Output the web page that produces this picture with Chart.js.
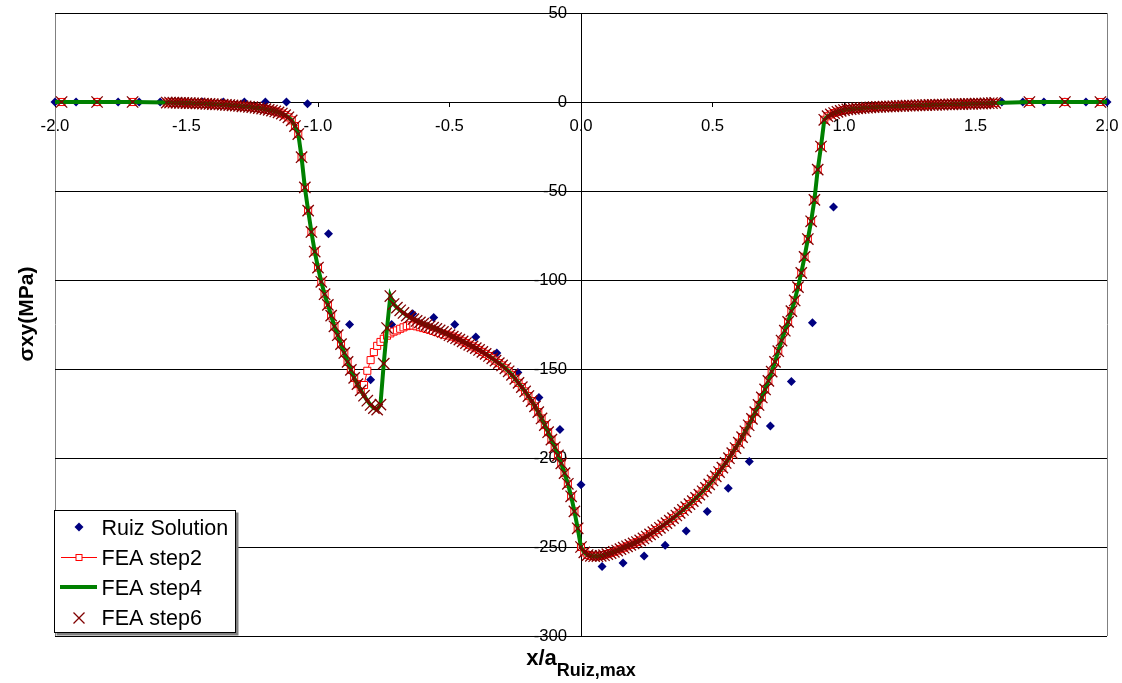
<!DOCTYPE html>
<html>
<head>
<meta charset="utf-8">
<title>σxy vs x/a</title>
<script src="https://cdn.jsdelivr.net/npm/chart.js@4.4.1/dist/chart.umd.min.js"></script>
<style>
  html, body { margin: 0; padding: 0; background: #fff; }
  #wrap { width: 1122px; height: 683px; position: relative; }
</style>
</head>
<body>
<div id="wrap"><canvas id="stressChart" width="1122" height="683"></canvas></div>
<script>
// Ruiz (analytic) solution
const ruizX = [-2.0, -1.92, -1.84, -1.76, -1.68, -1.6, -1.52, -1.44, -1.36, -1.28, -1.2, -1.12, -1.04,
    -0.96, -0.88, -0.8, -0.72, -0.64, -0.56, -0.48, -0.4, -0.32, -0.24, -0.16, -0.08, 0,
    0.08, 0.16, 0.24, 0.32, 0.4, 0.48, 0.56, 0.64, 0.72, 0.8, 0.88, 0.96,
    1.6, 1.68, 1.76, 1.84, 1.92, 2.0];
const ruizY = [0, 0, 0, 0, 0, 0, 0, 0, 0, 0, 0, 0, -1,
    -74, -125, -156, -125, -119, -121, -125, -132, -141, -152, -166, -184, -215,
    -261, -259, -255, -249, -241, -230, -217, -202, -182, -157, -124, -59,
    0, 0, 0, 0, 0, 0];

// FEA nodes (x/a)
const feaX = [-1.975, -1.84, -1.705,
    -1.575, -1.5625, -1.55, -1.5375, -1.525, -1.5125, -1.5, -1.4875,
    -1.475, -1.4625, -1.45, -1.4375, -1.425, -1.4125, -1.4, -1.3875,
    -1.375, -1.3625, -1.35, -1.3375, -1.325, -1.3125, -1.3, -1.2875,
    -1.275, -1.2625, -1.25, -1.2375, -1.225, -1.2125, -1.2, -1.1875,
    -1.175, -1.1625, -1.15, -1.1375, -1.125, -1.1125, -1.1, -1.0875,
    -1.075, -1.0625, -1.05, -1.0375, -1.025, -1.0125, -1, -0.9875,
    -0.975, -0.9625, -0.95, -0.9375, -0.925, -0.9125, -0.9, -0.8875,
    -0.875, -0.8625, -0.85, -0.8375, -0.825, -0.8125, -0.8, -0.7875,
    -0.775, -0.7625, -0.75, -0.7375, -0.725, -0.7125, -0.7, -0.6875,
    -0.675, -0.6625, -0.65, -0.6375, -0.625, -0.6125, -0.6, -0.5875,
    -0.575, -0.5625, -0.55, -0.5375, -0.525, -0.5125, -0.5, -0.4875,
    -0.475, -0.4625, -0.45, -0.4375, -0.425, -0.4125, -0.4, -0.3875,
    -0.375, -0.3625, -0.35, -0.3375, -0.325, -0.3125, -0.3, -0.2875,
    -0.275, -0.2625, -0.25, -0.2375, -0.225, -0.2125, -0.2, -0.1875,
    -0.175, -0.1625, -0.15, -0.1375, -0.125, -0.1125, -0.1, -0.0875,
    -0.075, -0.0625, -0.05, -0.0375, -0.025, -0.0125, 0, 0.0125,
    0.025, 0.0375, 0.05, 0.0625, 0.075, 0.0875, 0.1, 0.1125,
    0.125, 0.1375, 0.15, 0.1625, 0.175, 0.1875, 0.2, 0.2125,
    0.225, 0.2375, 0.25, 0.2625, 0.275, 0.2875, 0.3, 0.3125,
    0.325, 0.3375, 0.35, 0.3625, 0.375, 0.3875, 0.4, 0.4125,
    0.425, 0.4375, 0.45, 0.4625, 0.475, 0.4875, 0.5, 0.5125,
    0.525, 0.5375, 0.55, 0.5625, 0.575, 0.5875, 0.6, 0.6125,
    0.625, 0.6375, 0.65, 0.6625, 0.675, 0.6875, 0.7, 0.7125,
    0.725, 0.7375, 0.75, 0.7625, 0.775, 0.7875, 0.8, 0.8125,
    0.825, 0.8375, 0.85, 0.8625, 0.875, 0.8875, 0.9, 0.9125,
    0.925, 0.9375, 0.95, 0.9625, 0.975, 0.9875, 1, 1.0125,
    1.025, 1.0375, 1.05, 1.0625, 1.075, 1.0875, 1.1, 1.1125,
    1.125, 1.1375, 1.15, 1.1625, 1.175, 1.1875, 1.2, 1.2125,
    1.225, 1.2375, 1.25, 1.2625, 1.275, 1.2875, 1.3, 1.3125,
    1.325, 1.3375, 1.35, 1.3625, 1.375, 1.3875, 1.4, 1.4125,
    1.425, 1.4375, 1.45, 1.4625, 1.475, 1.4875, 1.5, 1.5125,
    1.525, 1.5375, 1.55, 1.5625, 1.575,
    1.705, 1.84, 1.975];

// FEA step6 sigma_xy (MPa), same nodes as feaX
const feaStep6 = [0, 0, 0,
    -0.3, -0.3, -0.4, -0.4, -0.5, -0.5, -0.6, -0.6,
    -0.7, -0.8, -0.8, -0.9, -1.0, -1.1, -1.2, -1.3,
    -1.4, -1.5, -1.6, -1.7, -1.9, -2.0, -2.2, -2.4,
    -2.5, -2.7, -2.9, -3.2, -3.4, -3.7, -4.0, -4.4,
    -4.8, -5.3, -5.8, -6.5, -7.4, -8.6, -10.3, -13.5,
    -18, -31, -48, -61, -73, -84, -93, -101,
    -108, -114, -120, -126, -131, -136, -141, -146,
    -150.5, -155, -158.5, -162, -165, -167.8, -170.2, -172,
    -172.8, -170, -147, -127, -109, -113.5, -115.5, -117,
    -118.5, -120, -121, -122, -123, -123.8, -124.5, -125.3,
    -126, -126.8, -127.5, -128.3, -129.2, -130, -131, -131.8,
    -132.7, -133.5, -134.5, -135.4, -136.4, -137.3, -138.3, -139.3,
    -140.4, -141.5, -142.7, -144, -145.3, -146.7, -148, -149.6,
    -151.3, -153.3, -155.5, -157.8, -160.2, -162.6, -165.2, -168,
    -171, -174.2, -177.8, -181.5, -185.5, -189.7, -194, -198.5,
    -203, -208.5, -214.5, -221.5, -230, -239.5, -250, -253,
    -254.5, -255, -255.2, -255.2, -255, -254.6, -254, -253.4,
    -252.7, -252, -251.2, -250.4, -249.6, -248.8, -248, -247.2,
    -246.3, -245.2, -244.1, -242.9, -241.7, -240.5, -239.2, -237.9,
    -236.6, -235.2, -233.8, -232.3, -230.8, -229.2, -227.6, -225.9,
    -224.2, -222.4, -220.6, -218.7, -216.8, -214.8, -212.6, -210.3,
    -207.9, -205.4, -202.8, -200.1, -197.3, -194.4, -191.4, -188.3,
    -185, -181.6, -178, -174.2, -170.2, -166, -161.5, -156.7,
    -151.5, -146, -140, -134, -128.5, -123.5, -117.5, -111.5,
    -104, -96, -87, -77, -67, -55, -38, -25,
    -10, -8, -7, -6.2, -5.5, -5, -4.5, -4.2,
    -4, -3.8, -3.6, -3.5, -3.3, -3.2, -3.0, -2.9,
    -2.8, -2.7, -2.6, -2.55, -2.5, -2.4, -2.3, -2.25,
    -2.2, -2.1, -2.05, -2.0, -1.9, -1.85, -1.8, -1.7,
    -1.65, -1.6, -1.55, -1.5, -1.45, -1.4, -1.35, -1.3,
    -1.25, -1.2, -1.15, -1.1, -1.05, -1.0, -0.95, -0.9,
    -0.85, -0.8, -0.7, -0.6, -0.5,
    0, 0, 0];

// FEA step2 differs from step6 only around the stick/slip dip
const step2DipX = [-0.8375, -0.825, -0.8125, -0.8, -0.7875, -0.775, -0.7625, -0.75, -0.7375, -0.725,
    -0.7125, -0.7, -0.6875, -0.675, -0.6625, -0.65, -0.6375, -0.625, -0.6125, -0.6,
    -0.5875, -0.575, -0.5625, -0.55, -0.5375, -0.525, -0.5125, -0.5];
const step2DipY = [-161.5, -159, -151, -145, -140.5, -137, -134.8, -133, -131.3, -130,
    -129, -128.3, -127.4, -126.6, -125.9, -125.5, -125.6, -126, -126.5, -127,
    -127.5, -128, -128.6, -129.2, -129.8, -130.4, -130.8, -131.2];

// step4 line runs to the plot edges
const step4EndX = [-2.0, 2.0];

const seriesNames = ['Ruiz Solution', 'FEA step2', 'FEA step4', 'FEA step6'];

// build point lists
const ruizPts = ruizX.map((x, i) => ({ x: x, y: ruizY[i] }));
const step6Pts = feaX.map((x, i) => ({ x: x, y: feaStep6[i] }));
const dip = new Map(step2DipX.map((x, i) => [x, step2DipY[i]]));
const step2Pts = feaX.map((x, i) => ({ x: x, y: dip.has(x) ? dip.get(x) : feaStep6[i] }));
const step4Pts = [{ x: step4EndX[0], y: 0 }].concat(step6Pts, [{ x: step4EndX[1], y: 0 }]);

const FONT = "'Liberation Sans', Arial, sans-serif";

// legend box + axis titles drawn on the canvas
const decorPlugin = {
    id: 'decor',
    afterDraw(chart) {
        const ctx = chart.ctx;
        ctx.save();

        // y title
        ctx.fillStyle = '#000';
        ctx.font = 'bold 21px ' + FONT;
        ctx.textAlign = 'center';
        ctx.textBaseline = 'middle';
        ctx.translate(27, 314);
        ctx.rotate(-Math.PI / 2);
        ctx.fillText('σxy(MPa)', 0, 0);
        ctx.setTransform(1, 0, 0, 1, 0, 0);

        // x title with subscript
        ctx.textAlign = 'left';
        ctx.textBaseline = 'alphabetic';
        ctx.font = 'bold 22px ' + FONT;
        const mainW = ctx.measureText('x/a').width;
        ctx.font = 'bold 18px ' + FONT;
        const subW = ctx.measureText('Ruiz,max').width;
        const x0 = 581 - (mainW + subW) / 2;
        ctx.font = 'bold 22px ' + FONT;
        ctx.fillText('x/a', x0, 665);
        ctx.font = 'bold 18px ' + FONT;
        ctx.fillText('Ruiz,max', x0 + mainW, 676);

        // legend
        const bx = 54.5, by = 510.5, bw = 181, bh = 122;
        ctx.fillStyle = '#808080';
        ctx.fillRect(bx + 2, by + 2, bw + 1, bh + 1);
        ctx.fillStyle = '#fff';
        ctx.fillRect(bx, by, bw, bh);
        ctx.strokeStyle = '#000';
        ctx.lineWidth = 1;
        ctx.strokeRect(bx, by, bw, bh);

        const mx = 79;
        const rows = [527, 557, 587, 618];
        // diamond
        ctx.fillStyle = '#000080';
        ctx.beginPath();
        ctx.moveTo(mx - 4.5, rows[0]); ctx.lineTo(mx, rows[0] - 4.5);
        ctx.lineTo(mx + 4.5, rows[0]); ctx.lineTo(mx, rows[0] + 4.5);
        ctx.closePath(); ctx.fill();
        // red line + square
        ctx.strokeStyle = '#ff0000';
        ctx.lineWidth = 1;
        ctx.beginPath(); ctx.moveTo(61, rows[1] + 0.5); ctx.lineTo(97, rows[1] + 0.5); ctx.stroke();
        ctx.fillStyle = '#fff';
        ctx.fillRect(mx - 3, rows[1] - 2.5, 6, 6);
        ctx.strokeRect(mx - 3, rows[1] - 2.5, 6, 6);
        // green line
        ctx.strokeStyle = '#008000';
        ctx.lineWidth = 4;
        ctx.beginPath(); ctx.moveTo(60, rows[2]); ctx.lineTo(97, rows[2]); ctx.stroke();
        // x mark
        ctx.strokeStyle = '#800000';
        ctx.lineWidth = 1.3;
        ctx.beginPath();
        ctx.moveTo(mx - 5.5, rows[3] - 5.5); ctx.lineTo(mx + 5.5, rows[3] + 5.5);
        ctx.moveTo(mx + 5.5, rows[3] - 5.5); ctx.lineTo(mx - 5.5, rows[3] + 5.5);
        ctx.stroke();

        ctx.fillStyle = '#000';
        ctx.font = '21.5px ' + FONT;
        ctx.textAlign = 'left';
        ctx.textBaseline = 'alphabetic';
        seriesNames.forEach((name, i) => ctx.fillText(name, 101.5, 535 + i * 30));

        ctx.restore();
    }
};

const chart = new Chart(document.getElementById('stressChart'), {
    type: 'scatter',
    data: {
        datasets: [
            {
                label: seriesNames[0],
                data: ruizPts,
                showLine: false,
                pointStyle: 'rectRot',
                pointRadius: 4.5,
                pointBackgroundColor: '#000080',
                pointBorderColor: '#000080',
                pointBorderWidth: 0,
                clip: false,
                order: 4
            },
            {
                label: seriesNames[1],
                data: step2Pts,
                showLine: true,
                borderColor: '#ff0000',
                borderWidth: 1,
                pointStyle: 'rect',
                pointRadius: 5,
                pointBackgroundColor: '#ffffff',
                pointBorderColor: '#ff0000',
                pointBorderWidth: 1,
                order: 3
            },
            {
                label: seriesNames[2],
                data: step4Pts,
                showLine: true,
                borderColor: '#008000',
                borderWidth: 4,
                pointRadius: 0,
                order: 2
            },
            {
                label: seriesNames[3],
                data: step6Pts,
                showLine: false,
                pointStyle: 'crossRot',
                pointRadius: 8,
                pointBorderColor: '#800000',
                pointBorderWidth: 1.3,
                order: 1
            }
        ]
    },
    options: {
        responsive: false,
        animation: false,
        devicePixelRatio: 1,
        layout: { padding: { left: 55, right: 15, top: 13, bottom: 47 } },
        plugins: {
            legend: { display: false },
            tooltip: { enabled: false }
        },
        scales: {
            x: {
                type: 'linear',
                position: { y: 0 },
                min: -2,
                max: 2,
                // the end labels may hang past the plot edge, as in the original
                afterFit: s => { s.paddingLeft = 0; s.paddingRight = 0; },
                ticks: {
                    stepSize: 0.5,
                    color: '#000',
                    font: { family: FONT, size: 16.7 },
                    padding: 10,
                    maxRotation: 0,
                    callback: v => v.toFixed(1)
                },
                grid: {
                    color: c => (c.tick && Math.abs(c.tick.value) === 2) ? '#808080' : 'rgba(0,0,0,0)',
                    tickColor: '#000',
                    tickLength: 4,
                    drawTicks: true
                },
                border: { display: true, color: '#000', width: 1 }
            },
            y: {
                type: 'linear',
                position: { x: 0 },
                min: -300,
                max: 50,
                afterFit: s => { s.paddingTop = 0; s.paddingBottom = 0; },
                ticks: {
                    stepSize: 50,
                    color: '#000',
                    font: { family: FONT, size: 16.7 },
                    // labels sit right-aligned on the axis; trailing spaces push them clear of it
                    callback: v => v + '   '
                },
                grid: {
                    color: '#000',
                    tickColor: '#000',
                    tickLength: 5
                },
                border: { display: true, color: '#000', width: 1 }
            }
        }
    },
    plugins: [decorPlugin]
});

// pin the plot area to where it sits in the original figure
const target = { left: 55, right: 1107, top: 13, bottom: 636 };
const pad = chart.options.layout.padding;
for (let pass = 0; pass < 3; pass++) {
    const area = chart.chartArea;
    pad.left += target.left - area.left;
    pad.top += target.top - area.top;
    pad.right += area.right - target.right;
    pad.bottom += area.bottom - target.bottom;
    chart.update('none');
}
</script>
</body>
</html>
